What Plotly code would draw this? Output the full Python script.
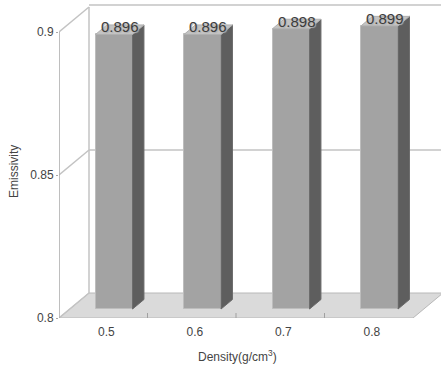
import plotly.graph_objects as go

categories = ["0.5", "0.6", "0.7", "0.8"]
emissivity = [0.896, 0.896, 0.898, 0.899]
y_ticks = [0.8, 0.85, 0.9]
y_tick_labels = ["0.8", "0.85", "0.9"]

# pseudo-3D geometry (data units)
PX_X = 88.5          # px per category
PX_Y = 2860.0        # px per y unit
DX = 30 / PX_X       # depth offset in x
DY = 25 / PX_Y       # depth offset in y
F0 = 0.36            # depth of bar front face
FD = 0.38            # bar depth
BAR_W = 37 / PX_X
Y0, Y1 = 0.8, 0.9
X0, X1 = -0.5, len(categories) - 0.5

idx = list(range(len(categories)))
base = Y0 + F0 * DY

fig = go.Figure()

# front faces
fig.add_trace(go.Bar(
    x=[i + F0 * DX for i in idx],
    y=[v - Y0 for v in emissivity],
    base=base,
    width=BAR_W,
    marker=dict(color="#a3a3a3", line=dict(color="#bdbdbd", width=1)),
    hoverinfo="skip", showlegend=False,
))

# side and top faces
for i, v in zip(idx, emissivity):
    xl = i + F0 * DX - BAR_W / 2
    xr = i + F0 * DX + BAR_W / 2
    top = v + F0 * DY
    ddx, ddy = FD * DX, FD * DY
    fig.add_trace(go.Scatter(
        x=[xr, xr + ddx, xr + ddx, xr, xr],
        y=[base, base + ddy, top + ddy, top, base],
        fill="toself", fillcolor="#5e5e5e", mode="lines",
        line=dict(color="#6a6a6a", width=1),
        hoverinfo="skip", showlegend=False,
    ))
    fig.add_trace(go.Scatter(
        x=[xl, xr, xr + ddx, xl + ddx, xl],
        y=[top, top, top + ddy, top + ddy, top],
        fill="toself", fillcolor="#c4c4c4", mode="lines",
        line=dict(color="#b0b0b0", width=1),
        hoverinfo="skip", showlegend=False,
    ))
    fig.add_annotation(
        x=i + F0 * DX + ddx / 2, y=top, text=f"{v:.3f}",
        xref="x", yref="y", showarrow=False, yanchor="bottom", yshift=-3,
        font=dict(family="Liberation Sans, Arial", size=15, color="#3c3c3c",
                  shadow="1px 1px 1px #b0b0b0"),
    )

shapes = []
wall = dict(color="#c3c3c3", width=1.5)
# floor
shapes.append(dict(type="path", xref="x", yref="y", layer="below",
                   path=f"M {X0},{Y0} L {X1},{Y0} L {X1 + DX},{Y0 + DY} L {X0 + DX},{Y0 + DY} Z",
                   fillcolor="#dadada", line=dict(color="#b8b8b8", width=1)))
# back wall left edge and top
shapes.append(dict(type="line", xref="x", yref="y", layer="below",
                   x0=X0 + DX, x1=X0 + DX, y0=Y0 + DY, y1=Y1 + DY, line=wall))
shapes.append(dict(type="line", xref="x", yref="y", layer="below",
                   x0=X0 + DX, x1=X1 + DX + 1, y0=Y1 + DY + 2 / PX_Y, y1=Y1 + DY + 2 / PX_Y, line=wall))
# gridline at middle tick on back wall + side wall
for t in y_ticks:
    shapes.append(dict(type="line", xref="x", yref="y", layer="below",
                       x0=X0, x1=X0 + DX, y0=t, y1=t + DY, line=wall))
    if Y0 < t < Y1:
        shapes.append(dict(type="line", xref="x", yref="y", layer="below",
                           x0=X0 + DX, x1=X1 + DX + 1, y0=t + DY, y1=t + DY, line=wall))
# front y axis line
shapes.append(dict(type="line", xref="x", yref="y", layer="below",
                   x0=X0, x1=X0, y0=Y0, y1=Y1, line=dict(color="#a8a8a8", width=1.5)))
# category separators on floor front edge
for i in idx[:-1]:
    shapes.append(dict(type="line", xref="x", yref="y", layer="below",
                       x0=i + 0.5, x1=i + 0.5, y0=Y0, y1=Y0 + 5 / PX_Y,
                       line=dict(color="#a0a0a0", width=1)))

L, B, T = 59, 60, 4
W, H = 441, 378
plot_w = W - L
plot_h = H - B - T

fig.update_layout(
    width=W, height=H,
    margin=dict(l=L, r=0, t=T, b=B),
    paper_bgcolor="white", plot_bgcolor="white",
    shapes=shapes, bargap=0,
    font=dict(family="Liberation Sans, Arial", size=12, color="#444"),
    xaxis=dict(range=[X0, X0 + plot_w / PX_X], tickvals=[i + 0.035 for i in idx],
               ticktext=categories, showgrid=False, zeroline=False, showline=False,
               ticks="outside", ticklen=3, tickcolor="rgba(0,0,0,0)",
               tickfont=dict(size=12, color="#444")),
    yaxis=dict(range=[Y0, Y0 + plot_h / PX_Y], tickvals=y_ticks, ticktext=y_tick_labels,
               showgrid=False, zeroline=False, showline=False,
               ticks="outside", ticklen=2, tickcolor="#a8a8a8",
               tickfont=dict(size=12, color="#444")),
    annotations=list(fig.layout.annotations) + [
        dict(text="Emissivity", xref="paper", yref="paper",
             x=(14 - L) / plot_w, y=(H - B - 172) / plot_h, textangle=-90,
             xanchor="center", yanchor="middle",
             showarrow=False, font=dict(size=12, color="#444")),
        dict(text="Density(g/cm<sup>3</sup>)", xref="paper", yref="paper",
             x=(237 - L) / plot_w, y=(H - B - 356) / plot_h,
             xanchor="center", yanchor="middle",
             showarrow=False, font=dict(size=12, color="#444")),
    ],
)

fig.write_html("out.html")
